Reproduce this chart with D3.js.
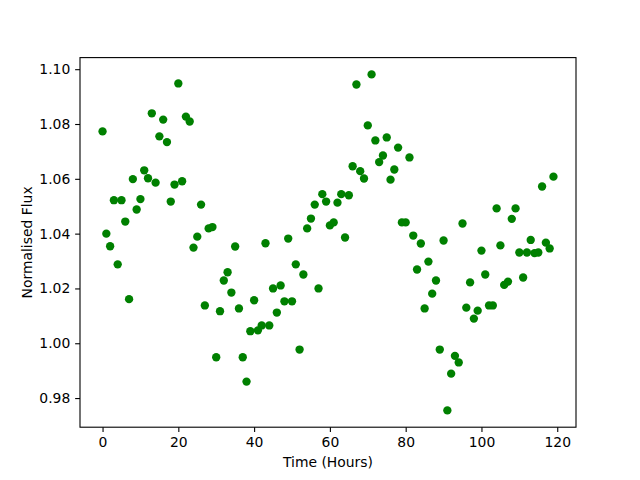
<!DOCTYPE html>
<html>
<head>
<meta charset="utf-8">
<script src="https://cdn.jsdelivr.net/npm/d3@7"></script>
<style>
  body { margin: 0; background: #fff; }
  text { font-family: "DejaVu Sans", sans-serif; }
</style>
</head>
<body>
<div id="chart"></div>
<script>
// hourly samples, 0..119
const hours = d3.range(0, 120);
const flux = [
    1.0773, 1.0400, 1.0354, 1.0522, 1.0288, 1.0522, 1.0444, 1.0161, 1.0599, 1.0488,
    1.0526, 1.0631, 1.0602, 1.0839, 1.0586, 1.0755, 1.0816, 1.0734, 1.0517, 1.0579,
    1.0948, 1.0591, 1.0827, 1.0809, 1.0349, 1.0389, 1.0506, 1.0138, 1.0419, 1.0424,
    0.9949, 1.0117, 1.0229, 1.0259, 1.0185, 1.0353, 1.0127, 0.9949, 0.9860, 1.0044,
    1.0157, 1.0047, 1.0065, 1.0365, 1.0065, 1.0200, 1.0112, 1.0211, 1.0153, 1.0382,
    1.0153, 1.0288, 0.9977, 1.0251, 1.0419, 1.0455, 1.0506, 1.0200, 1.0544, 1.0517,
    1.0430, 1.0441, 1.0513, 1.0544, 1.0386, 1.0540, 1.0646, 1.0944, 1.0628, 1.0601,
    1.0795, 1.0981, 1.0740, 1.0661, 1.0685, 1.0751, 1.0597, 1.0634, 1.0714, 1.0441,
    1.0441, 1.0678, 1.0393, 1.0269, 1.0364, 1.0127, 1.0298, 1.0181, 1.0229, 0.9977,
    1.0375, 0.9755, 0.9889, 0.9954, 0.9930, 1.0437, 1.0130, 1.0222, 1.0090, 1.0119,
    1.0338, 1.0251, 1.0138, 1.0138, 1.0492, 1.0357, 1.0213, 1.0225, 1.0454, 1.0492,
    1.0331, 1.0240, 1.0331, 1.0377, 1.0329, 1.0331, 1.0572, 1.0367, 1.0346, 1.0608
];
const xTicks = [0, 20, 40, 60, 80, 100, 120];
const yTicks = [0.98, 1.00, 1.02, 1.04, 1.06, 1.08, 1.10];

const W = 640, H = 480;
const margin = { top: 57.6, right: 64, bottom: 52.8, left: 80 };
const width = W - margin.left - margin.right;
const height = H - margin.top - margin.bottom;

// matplotlib style 5% padding on the data range
const pad = (lo, hi) => { const d = (hi - lo) * 0.05; return [lo - d, hi + d]; };
const xDom = pad(d3.min(hours), d3.max(hours));
const yDom = pad(d3.min(flux), d3.max(flux));

const x = d3.scaleLinear().domain(xDom).range([0, width]);
const y = d3.scaleLinear().domain(yDom).range([height, 0]);

const svg = d3.select('#chart').append('svg')
    .attr('width', W)
    .attr('height', H);

const g = svg.append('g')
    .attr('transform', `translate(${margin.left}, ${margin.top})`);

g.selectAll('circle.pt')
    .data(hours)
    .enter().append('circle')
    .attr('class', 'pt')
    .attr('cx', (d, i) => x(d))
    .attr('cy', (d, i) => y(flux[i]))
    .attr('r', 4.17)
    .attr('fill', '#008000');

const xAxis = g.append('g')
    .attr('transform', `translate(0, ${height})`)
    .call(d3.axisBottom(x).tickValues(xTicks).tickSize(4.86).tickPadding(4.86).tickFormat(d3.format('d')));

const yAxis = g.append('g')
    .call(d3.axisLeft(y).tickValues(yTicks).tickSize(4.86).tickPadding(4.86).tickFormat(d3.format('.2f')));

[xAxis, yAxis].forEach(a => {
    a.select('.domain').remove();
    a.selectAll('line').attr('stroke', '#000').attr('stroke-width', 1.1);
    a.selectAll('text').attr('font-size', '13.9px').attr('fill', '#000')
        .attr('font-family', '"DejaVu Sans", sans-serif');
});

// frame
g.append('rect')
    .attr('x', 0).attr('y', 0)
    .attr('width', width).attr('height', height)
    .attr('fill', 'none')
    .attr('stroke', '#000')
    .attr('stroke-width', 1.1);

g.append('text')
    .attr('x', width / 2)
    .attr('y', height + 40)
    .attr('text-anchor', 'middle')
    .attr('font-size', '13.9px')
    .text('Time (Hours)');

g.append('text')
    .attr('transform', `translate(${-48.5}, ${height / 2}) rotate(-90)`)
    .attr('text-anchor', 'middle')
    .attr('font-size', '13.9px')
    .text('Normalised Flux');
</script>
</body>
</html>
